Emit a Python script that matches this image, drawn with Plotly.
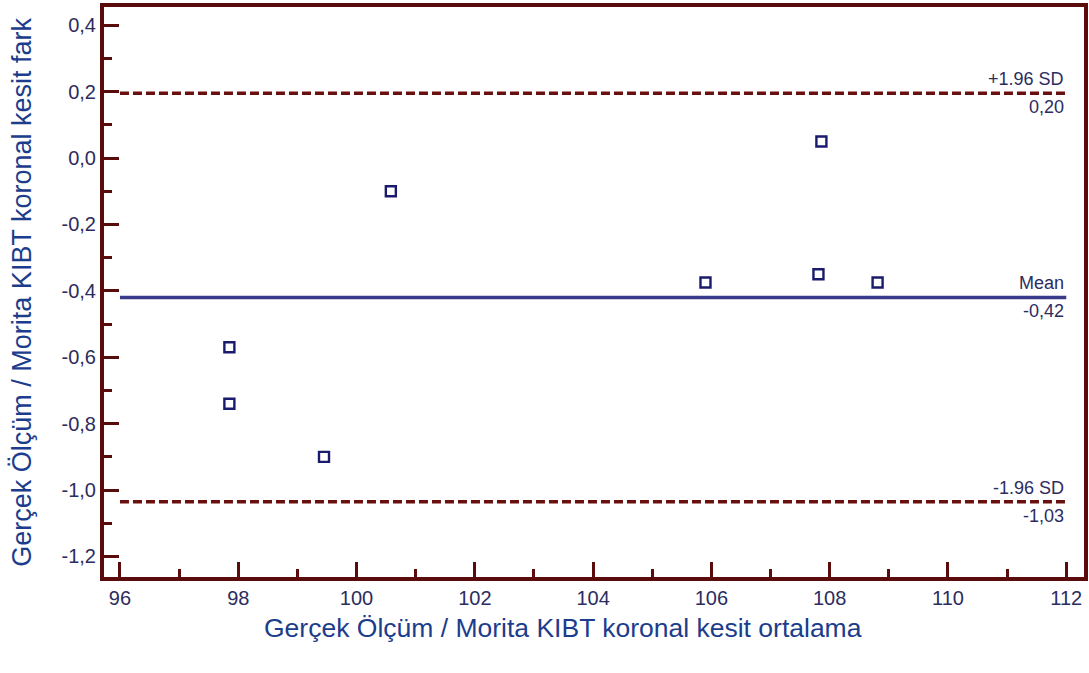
import plotly.graph_objects as go

# Data
mean_x = [97.85, 97.85, 99.45, 100.58, 105.9, 107.81, 107.86, 108.81]
diff_y = [-0.57, -0.74, -0.90, -0.10, -0.375, -0.35, 0.05, -0.375]
mean_diff = -0.42
upper_loa = 0.195
lower_loa = -1.035
line_labels = ["+1.96 SD", "Mean", "-1.96 SD"]
line_values_text = ["0,20", "-0,42", "-1,03"]
x_ticks = [96, 98, 100, 102, 104, 106, 108, 110, 112]
y_ticks = [-1.2, -1.0, -0.8, -0.6, -0.4, -0.2, 0.0, 0.2, 0.4]
y_ticktext = ["-1,2", "-1,0", "-0,8", "-0,6", "-0,4", "-0,2", "0,0", "0,2", "0,4"]
x_title = "Gerçek Ölçüm / Morita KIBT koronal kesit ortalama"
y_title = "Gerçek Ölçüm / Morita KIBT koronal kesit fark"

frame = "#5a0c0c"
tickfont_col = "#2c2c5e"
title_col = "#1c3c8c"
navy = "#1a1a6e"
dash_col = "#6a0f0f"
mean_col = "#3a3a8a"
FONT = "Liberation Sans, Arial"

line_start, line_end = 96, 112

fig = go.Figure()
fig.add_trace(go.Scatter(x=[line_start, line_end], y=[upper_loa, upper_loa], mode="lines",
                         line=dict(color=dash_col, width=3.5, dash="9px,4px"), hoverinfo="skip"))
fig.add_trace(go.Scatter(x=[line_start, line_end], y=[lower_loa, lower_loa], mode="lines",
                         line=dict(color=dash_col, width=3.5, dash="9px,4px"), hoverinfo="skip"))
fig.add_trace(go.Scatter(x=[line_start, line_end], y=[mean_diff, mean_diff], mode="lines",
                         line=dict(color=mean_col, width=3.5), hoverinfo="skip"))
fig.add_trace(go.Scatter(x=mean_x, y=diff_y, mode="markers",
                         marker=dict(symbol="square-open", size=10, color=navy, line=dict(width=2.4, color=navy))))

anns = []
for lab, val, yv in zip(line_labels, line_values_text, [upper_loa, mean_diff, lower_loa]):
    anns.append(dict(x=line_end, y=yv, xref="x", yref="y", text=lab, showarrow=False,
                     xanchor="right", yanchor="bottom", yshift=2,
                     font=dict(family=FONT, size=18, color=tickfont_col)))
    anns.append(dict(x=line_end, y=yv, xref="x", yref="y", text=val, showarrow=False,
                     xanchor="right", yanchor="top", yshift=-2,
                     font=dict(family=FONT, size=18, color=tickfont_col)))
anns.append(dict(x=0.468, y=-0.09, xref="paper", yref="paper", text=x_title, showarrow=False,
                 xanchor="center", yanchor="middle",
                 font=dict(family=FONT, size=26.5, color=title_col)))
anns.append(dict(x=-0.084, y=0.5, xref="paper", yref="paper", text=y_title, showarrow=False,
                 textangle=-90, xanchor="center", yanchor="middle",
                 font=dict(family=FONT, size=27, color=title_col)))

fig.update_layout(
    width=1089, height=673,
    margin=dict(l=104, r=5, t=7, b=96, autoexpand=False),
    paper_bgcolor="white", plot_bgcolor="white",
    showlegend=False,
    annotations=anns,
    font=dict(family=FONT, size=20, color=tickfont_col),
)
fig.update_xaxes(range=[95.73, 112.3], tickvals=x_ticks, ticks="inside", ticklen=15, tickwidth=3,
                 tickcolor=frame, showline=True, linecolor=frame, linewidth=4, mirror=True,
                 showgrid=False, zeroline=False, automargin=False,
                 minor=dict(ticks="inside", ticklen=8, tickwidth=3, tickcolor=frame, dtick=1, tick0=96, showgrid=False),
                 tickfont=dict(family=FONT, size=20, color=tickfont_col))
fig.update_yaxes(range=[-1.262, 0.455], tickvals=y_ticks, ticktext=y_ticktext, ticks="inside", ticklen=15,
                 tickwidth=3, tickcolor=frame, showline=True, linecolor=frame, linewidth=4, mirror=True,
                 showgrid=False, zeroline=False, automargin=False,
                 minor=dict(ticks="inside", ticklen=8, tickwidth=3, tickcolor=frame, dtick=0.1, tick0=0, showgrid=False),
                 tickfont=dict(family=FONT, size=20, color=tickfont_col))

fig.write_html("out.html", config={"displayModeBar": False},
               post_script="document.body.style.margin='0px';")
